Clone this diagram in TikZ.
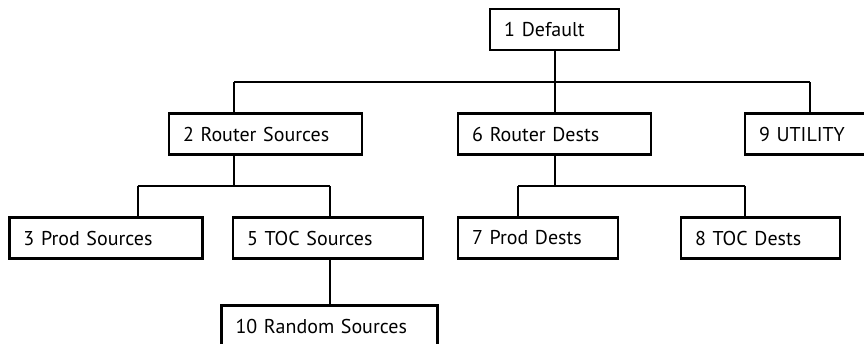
\documentclass[tikz,border=0pt]{standalone}
\usepackage{fontspec}
\setmainfont{PT Sans}
\tikzset{
  treebox/.style={draw, rectangle, line width=1.6pt, minimum height=30.75pt, inner xsep=10.5pt, inner ysep=2pt, align=left, text width=#1, font=\fontsize{15}{17}\selectfont},
  link/.style={line width=1.6pt}
}
\begin{document}
\begin{tikzpicture}[x=0.75pt, y=-0.75pt]
    \useasboundingbox (0,0) rectangle (864,343);

    \node[treebox=75.75pt] at (554.7,29.5) (dflt) {1 Default};
    \node[treebox=123.75pt] at (265.5,134) (rsrc) {2 Router Sources};
    \node[treebox=123.75pt] at (554.7,134) (rdst) {6 Router Dests};
    \node[treebox=76.5pt] at (810,134) (util) {9 UTILITY};
    \node[treebox=123.75pt] at (106,238) (psrc) {3 Prod Sources};
    \node[treebox=121.5pt] at (328,238) (tsrc) {5 TOC Sources};
    \node[treebox=99pt] at (538,238) (pdst) {7 Prod Dests};
    \node[treebox=98.25pt] at (760.5,238) (tdst) {8 TOC Dests};
    \node[treebox=141pt] at (329.5,326) (rnd) {10 Random Sources};

    \coordinate (jrsrc) at (234,82);
    \coordinate (jutil) at (810,82);
    \coordinate (jpsrc) at (137.7,186);
    \coordinate (jtsrc) at (330,186);
    \coordinate (jpdst) at (518,186);
    \coordinate (jtdst) at (745,186);

    \draw[link] (dflt.south) -- (rdst.north);
    \draw[link] (jrsrc) -- (jutil);
    \draw[link] (jrsrc) -- (jrsrc |- rsrc.north);
    \draw[link] (jutil) -- (util.north);

    \draw[link] (jrsrc |- rsrc.south) -- (jrsrc |- jpsrc);
    \draw[link] (jpsrc) -- (jtsrc);
    \draw[link] (jpsrc) -- (jpsrc |- psrc.north);
    \draw[link] (jtsrc) -- (jtsrc |- tsrc.north);

    \draw[link] (rdst.south) -- (rdst.south |- jpdst);
    \draw[link] (jpdst) -- (jtdst);
    \draw[link] (jpdst) -- (jpdst |- pdst.north);
    \draw[link] (jtdst) -- (jtdst |- tdst.north);

    \draw[link] (jtsrc |- tsrc.south) -- (jtsrc |- rnd.north);
  \end{tikzpicture}
\end{document}
